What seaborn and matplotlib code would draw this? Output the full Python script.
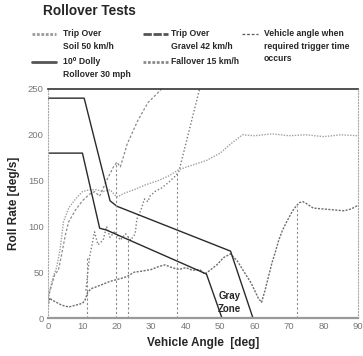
"""
Rollover tests: roll rate vs vehicle angle with threshold boundaries.
"""
import numpy as np
import pandas as pd
import matplotlib
matplotlib.use('Agg')
import matplotlib.pyplot as plt
import seaborn as sns
from matplotlib.lines import Line2D

# threshold boundaries (upper / lower edge of the gray zone)
upper_angle = [0, 10.5, 18, 20, 53, 59.5]
upper_rate = [240, 240, 128, 122, 73, 0]
lower_angle = [0, 10, 15, 17, 46, 50.5]
lower_rate = [180, 180, 98, 96, 48, 0]

# Trip Over Soil 50 km/h
soil_angle = [0, 0.5, 1.5, 2.5, 3.5, 4.5, 6, 8, 10, 12, 14, 16, 18, 20, 22, 25,
              28, 32, 35, 38, 42, 46, 50, 53, 56.5, 60, 65, 70, 75, 80, 85, 90]
soil_rate = [18, 30, 45, 55, 75, 105, 120, 130, 138, 140, 140, 138, 140, 132, 136, 140,
             145, 150, 155, 162, 167, 172, 180, 190, 200, 199, 201, 199, 200, 198, 200, 199]

# Trip Over Gravel 42 km/h
gravel_angle = [0, 1, 2, 3, 4, 5, 6, 8, 10, 12, 13.5, 15, 17, 19, 20, 21, 23, 26, 29, 33]
gravel_rate = [22, 35, 48, 52, 70, 90, 105, 118, 128, 135, 138, 133, 150, 165, 170, 165,
               190, 215, 235, 250]

# 10 deg Dolly Rollover 30 mph
dolly_angle = [11, 12, 13.5, 14.5, 16, 17, 18, 19.5, 21, 22.5, 24, 25.3, 25.8, 27, 28,
               29, 29.6, 31, 33, 35, 37, 38, 40, 42, 44]
dolly_rate = [30, 65, 94, 80, 85, 100, 88, 95, 85, 92, 85, 92, 108, 118, 130, 127, 133,
              138, 142, 148, 155, 160, 190, 220, 250]

# Fallover 15 km/h
fall_angle = [0, 0.5, 1, 2, 3, 4, 5, 6, 7, 8, 9, 10, 10.8, 11.5, 12.5, 14, 16, 18, 20, 22,
              23.3, 25, 27, 30, 32, 34, 36, 38, 40, 42, 44, 45.5, 47, 49, 51, 53, 55, 57,
              59, 61, 62, 63, 64, 65, 66, 67, 68, 69, 70, 71, 72, 73, 74, 75, 77, 80, 83,
              86, 88, 90]
fall_rate = [12, 22, 20, 18, 16, 14, 13, 12, 13, 14, 15, 16, 20, 28, 32, 34, 37, 40, 42, 44,
             46, 50, 51, 53, 56, 58, 55, 53, 55, 52, 53, 48, 52, 58, 66, 70, 62, 50,
             38, 22, 17, 30, 45, 60, 72, 85, 95, 103, 110, 117, 122, 126, 127, 125, 120,
             119, 118, 117, 119, 123]

# vehicle angle when required trigger time occurs
trigger_angle = [11.3, 19.7, 23.3, 37.5, 72.2]
trigger_rate = [65, 170, 90, 158, 122]

sns.set_style('white')
plt.rcParams['font.family'] = ['Liberation Sans', 'DejaVu Sans']

W, H = 363, 356
fig = plt.figure(figsize=(W / 100, H / 100), dpi=100)
ax = fig.add_axes([48 / W, 1 - 318 / H, 310 / W, 229 / H])

tests = [
    ('Trip Over\nSoil 50 km/h', soil_angle, soil_rate, '#a0a0a0', (0, (1, 1)), 1.0),
    ('10\u2070 Dolly\nRollover 30 mph', dolly_angle, dolly_rate, '#7a7a7a', (0, (1, 1.5)), 1.0),
    ('Trip Over\nGravel 42 km/h', gravel_angle, gravel_rate, '#8c8c8c', (0, (2, 1.5)), 0.9),
    ('Fallover 15 km/h', fall_angle, fall_rate, '#6e6e6e', (0, (1.5, 1)), 1.0),
]

for name, xs, ys, col, ls, lw in tests:
    df = pd.DataFrame({'angle': xs, 'rate': ys})
    sns.lineplot(data=df, x='angle', y='rate', ax=ax, sort=False, estimator=None,
                 color=col, linestyle=ls, linewidth=lw)

for xs, ys in [(upper_angle, upper_rate), (lower_angle, lower_rate)]:
    df = pd.DataFrame({'angle': xs, 'rate': ys})
    sns.lineplot(data=df, x='angle', y='rate', ax=ax, sort=False, estimator=None,
                 color='#2a2a2a', linewidth=1.0)

ax.vlines(trigger_angle, 0, trigger_rate, colors='#8a8a8a', linestyles=(0, (2, 2)),
          linewidth=0.8)

ax.text(52.8, 17, 'Gray\nZone', ha='center', va='center', fontsize=7,
        fontweight='bold', linespacing=1.3)

ax.set_xlim(0, 90)
ax.set_ylim(0, 250)
ax.set_xticks(np.arange(0, 91, 10))
ax.set_yticks(np.arange(0, 251, 50))
ax.tick_params(axis='both', labelsize=6.8, colors='#777777', length=2, direction='in',
               pad=3)
ax.set_xlabel('Vehicle Angle  [deg]', fontsize=8.5, fontweight='bold', labelpad=4)
ax.set_ylabel('Roll Rate [deg/s]', fontsize=8.5, fontweight='bold', labelpad=6)

ax.spines['top'].set_color('#333333')
ax.spines['top'].set_linewidth(1.2)
ax.spines['bottom'].set_color('#999999')
ax.spines['bottom'].set_linewidth(1.6)
for side in ['left', 'right']:
    ax.spines[side].set_color('#aaaaaa')
    ax.spines[side].set_linewidth(0.8)
    ax.spines[side].set_linestyle(':')

fig.text(43 / W, 1 - 11 / H, 'Rollover Tests', fontsize=9.8, fontweight='bold',
         va='center')


# legend drawn entry by entry (pixel positions of the scanned original)
def legend_entry(x0, x1, y, tx, label, color, ls, lw):
    fig.add_artist(Line2D([x0 / W, x1 / W], [1 - y / H, 1 - y / H],
                          transform=fig.transFigure, color=color, linestyle=ls,
                          linewidth=lw))
    fig.text(tx / W, 1 - (y - 4.5) / H, label, fontsize=6.2, fontweight='bold',
             va='top', ha='left', linespacing=1.45)


legend_entry(32, 56, 34, 63, tests[0][0], '#9a9a9a', (0, (1, 0.6)), 2.0)
legend_entry(32, 56, 62, 63, tests[1][0], '#555555', '-', 2.0)
legend_entry(143, 168, 34, 171, tests[2][0], '#555555', (0, (3, 0.6)), 2.0)
legend_entry(143, 168, 62, 171, tests[3][0], '#8a8a8a', (0, (1, 0.6)), 2.0)
legend_entry(242, 258, 34, 264, 'Vehicle angle when\nrequired trigger time\noccurs',
             '#555555', (0, (2.2, 1.5)), 0.9)

fig.savefig('out.png', dpi=100)
